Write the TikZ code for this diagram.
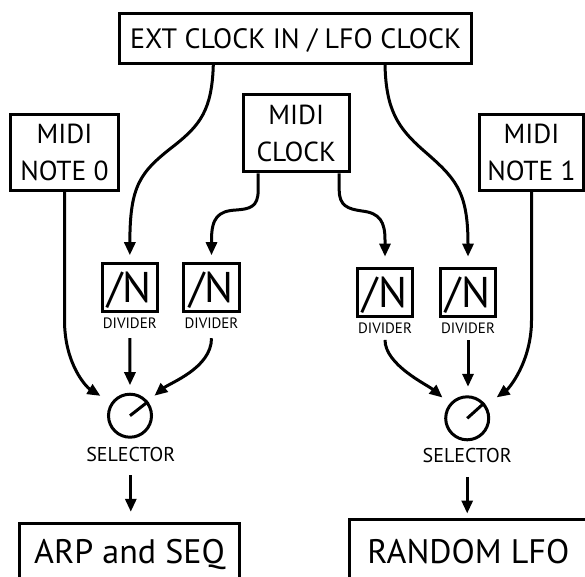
\documentclass[tikz,border=0pt]{standalone}
\usepackage{fontspec}
\setmainfont{PT Sans}
\usetikzlibrary{arrows.meta}
\begin{document}
\begin{tikzpicture}[x=1pt,y=-1pt,
  box/.style={draw, line width=3pt, inner sep=0pt, align=center, font=\fontsize{27.5}{36.5}\selectfont},
  divbox/.style={draw, line width=3pt, inner sep=0pt, minimum width=55.5pt, minimum height=48pt, font=\fontsize{43}{43}\selectfont, text height=30pt, text depth=0pt},
  divlbl/.style={inner sep=0pt, font=\fontsize{15}{15}\selectfont, text height=10pt, text depth=0pt},
  knob/.style={circle, draw, line width=3pt, minimum size=43pt, inner sep=0pt},
  sellbl/.style={inner sep=0pt, font=\fontsize{20}{20}\selectfont, text height=13.5pt, text depth=0pt},
  outbox/.style={draw, line width=3pt, inner sep=0pt, font=\fontsize{34}{34}\selectfont, text height=23.5pt, text depth=0pt},
  wire/.style={line width=3pt},
  arr/.style={line width=3pt, -{Triangle[length=13pt,width=11pt]}}
]
\clip (0,0) rectangle (585,576);
\useasboundingbox (0,0) rectangle (585,576);
\fill[white] (0,0) rectangle (585,576);

% source boxes
\node[box, minimum width=351.7pt, minimum height=50pt, text height=20pt, text depth=0pt, font=\fontsize{28}{30}\selectfont] (EXT) at (295.6,38.3) {EXT CLOCK IN / LFO CLOCK};
\node[box, minimum width=108pt, minimum height=76pt] (N0) at (64.5,152.2) {MIDI\\NOTE 0};
\node[box, minimum width=106pt, minimum height=77pt] (MC) at (296.2,133.3) {MIDI\\CLOCK};
\node[box, minimum width=104pt, minimum height=76pt] (N1) at (531.5,152.5) {MIDI\\NOTE 1};

% dividers
\node[divbox] (D1) at (129.85,287.2) {/N};
\node[divbox] (D2) at (211.5,287.2) {/N};
\node[divbox] (D3) at (385,292) {/N};
\node[divbox] (D4) at (468,292) {/N};
\node[divlbl] (L1) at (129.85,323.3) {DIVIDER};
\node[divlbl] (L2) at (211.5,323.3) {DIVIDER};
\node[divlbl] (L3) at (385,328.7) {DIVIDER};
\node[divlbl] (L4) at (468,328.7) {DIVIDER};

% selectors
\node[knob] (S1) at (130,415.7) {};
\node[knob] (S2) at (467.2,418.3) {};
\draw[wire] (S1.center) -- (S1.38);
\draw[wire] (S2.center) -- (S2.42);
\node[sellbl] (SL1) at (130.8,455) {SELECTOR};
\node[sellbl] (SL2) at (467.2,455.5) {SELECTOR};

% outputs
\node[outbox, minimum width=219.4pt, minimum height=56.6pt] (ARP) at (129.5,551.5) {ARP and SEQ};
\node[outbox, minimum width=237pt, minimum height=63.8pt] (RND) at (468.3,551.7) {RANDOM LFO};

% connectors into dividers
\draw[arr, shorten >=6.5pt] ([xshift=-82.3pt]EXT.south) .. controls (212,110) and (200,125) .. (175,145) .. controls (140,172) and (129.85,185) .. (D1.north);
\draw[arr, shorten >=9.9pt] ([xshift=89.4pt]EXT.south) .. controls (386,110) and (398,128) .. (423,150) .. controls (455,178) and (468,190) .. (D4.north);
\draw[arr, shorten >=6.5pt] ([xshift=-38pt]MC.south) -- (258.2,190) .. controls (258.2,207) and (250,209) .. (236,210) .. controls (218,211) and (211.5,218) .. (211.5,240) -- (D2.north);
\draw[arr, shorten >=9.9pt] ([xshift=43pt]MC.south) -- (339.2,190) .. controls (339.2,206) and (348,209) .. (362,211) .. controls (380,213) and (385,222) .. (385,240) -- (D3.north);

% connectors into selectors
\draw[arr, shorten >=12.6pt] (N0.south) -- (64.5,320) .. controls (64.5,365) and (87,387.5) .. (S1.145);
\draw[arr, shorten <=9.7pt, shorten >=7.5pt] (L1.south) -- (S1.north);
\draw[arr, shorten <=9.7pt, shorten >=8.6pt] (L2.south) .. controls (211.5,368) and (169.7,383) .. (S1.39);
\draw[arr, shorten <=6pt, shorten >=9.3pt] (L3.south) .. controls (385,365) and (427.5,384.9) .. (S2.140);
\draw[arr, shorten <=6.3pt, shorten >=8.5pt] (L4.south) -- (L4.south |- S2.north);
\draw[arr, shorten >=13.1pt] (N1.south) -- (531.5,320) .. controls (531.5,362) and (508.8,388.5) .. (S2.35);

% selectors to outputs
\draw[arr, shorten <=13.3pt, shorten >=9.9pt] (SL1.south) -- (SL1.south |- ARP.north);
\draw[arr, shorten <=14.5pt, shorten >=4.8pt] (SL2.south) -- (SL2.south |- RND.north);
\end{tikzpicture}
\end{document}
